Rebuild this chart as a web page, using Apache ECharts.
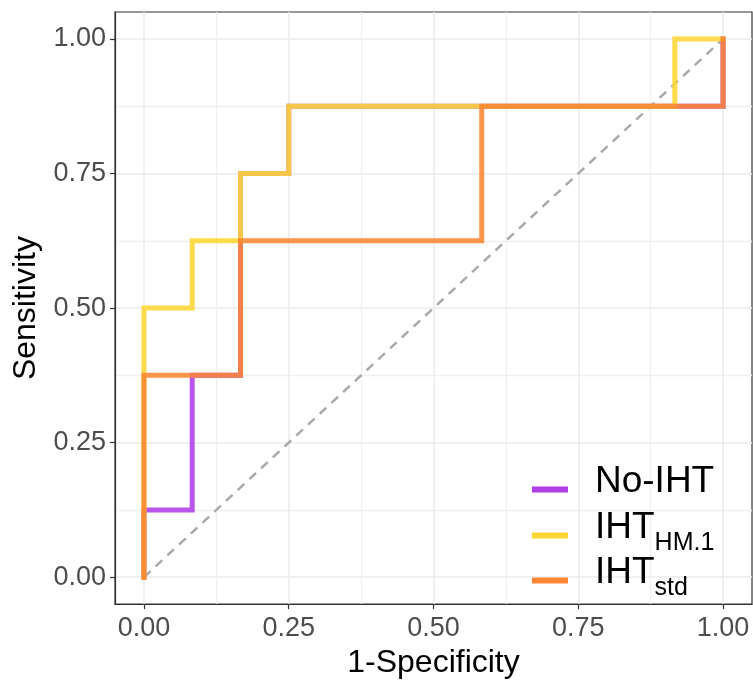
<!DOCTYPE html>
<html>
<head>
<meta charset="utf-8">
<script src="https://cdn.jsdelivr.net/npm/echarts@6/dist/echarts.min.js"></script>
<style>
html,body{margin:0;padding:0;background:#fff;}
#chart{width:753px;height:684px;}
</style>
</head>
<body>
<div id="chart"></div>
<script>
// ROC curve corner points (1-Specificity, Sensitivity)
const noIhtFpr = [0, 0, 1/12, 1/12, 2/12, 2/12, 3/12, 3/12, 1, 1];
const noIhtTpr = [0, 0.125, 0.125, 0.375, 0.375, 0.75, 0.75, 0.875, 0.875, 1];
const hm1Fpr = [0, 0, 1/12, 1/12, 2/12, 2/12, 3/12, 3/12, 11/12, 11/12, 1];
const hm1Tpr = [0, 0.5, 0.5, 0.625, 0.625, 0.75, 0.75, 0.875, 0.875, 1, 1];
const stdFpr = [0, 0, 2/12, 2/12, 7/12, 7/12, 1, 1];
const stdTpr = [0, 0.375, 0.375, 0.625, 0.625, 0.875, 0.875, 1];
const diagX = [0, 1];
const diagY = [0, 1];
const majorTicks = [0, 0.25, 0.5, 0.75, 1];
const minorTicks = [0.125, 0.375, 0.625, 0.875];
const seriesNames = ['No-IHT', 'IHT_HM.1', 'IHT_std'];
const seriesColors = ['#B03EE8', '#FCD733', '#FB8633'];

const zip = (xs, ys) => xs.map((x, i) => [x, ys[i]]);
const FONT = 'Liberation Sans, Arial, Helvetica, sans-serif';

const chart = echarts.init(document.getElementById('chart'));

function axisPair(isX) {
  const main = {
    type: 'value', min: -0.05, max: 1.05,
    position: isX ? 'bottom' : 'left',
    axisLine: { show: true, onZero: false, lineStyle: { color: '#333333', width: 1.2 } },
    axisTick: { show: true, length: 5, customValues: majorTicks, lineStyle: { color: '#333333', width: 1.2 } },
    axisLabel: {
      customValues: majorTicks, margin: isX ? 11 : 9,
      color: '#4D4D4D', fontSize: 27, fontFamily: FONT,
      formatter: v => v.toFixed(2)
    },
    splitLine: { show: true, lineStyle: { color: '#EBEBEB', width: 1.5 } },
    name: isX ? '1-Specificity' : 'Sensitivity',
    nameLocation: 'middle',
    nameGap: isX ? 55 : 86,
    nameRotate: isX ? 0 : 90,
    nameTextStyle: { color: '#000', fontSize: 32, fontFamily: FONT, verticalAlign: 'middle' }
  };
  const minor = {
    type: 'value', min: -0.05, max: 1.05,
    position: isX ? 'top' : 'right',
    axisLine: { show: false },
    axisTick: { show: false, customValues: minorTicks },
    axisLabel: { show: false, customValues: minorTicks },
    splitLine: { show: true, lineStyle: { color: '#F0F0F0', width: 1.3 } }
  };
  return [main, minor];
}

const rich = {
  m: { fontSize: 37, fontFamily: FONT, color: '#000', lineHeight: 44, padding: [0, 0, 16, 22] },
  s: { fontSize: 25, fontFamily: FONT, color: '#000', lineHeight: 44, padding: [16, 0, 0, 0] }
};
function legendLabel(name) {
  if (name === 'IHT_HM.1') return '{m|IHT}{s|HM.1}';
  if (name === 'IHT_std') return '{m|IHT}{s|std}';
  return '{m|' + name + '}';
}
const legendTops = [463, 509, 554];

const lineSeries = [zip(noIhtFpr, noIhtTpr), zip(hm1Fpr, hm1Tpr), zip(stdFpr, stdTpr)].map((d, i) => ({
  name: seriesNames[i],
  type: 'line',
  data: d,
  showSymbol: false,
  symbol: 'none',
  color: seriesColors[i],
  lineStyle: { width: 5, opacity: 0.88, cap: 'square', join: 'miter' },
  z: 3 + i,
  animation: false
}));

chart.setOption({
  backgroundColor: '#fff',
  animation: false,
  grid: { left: 115, top: 12, right: 1, bottom: 71, show: true, borderColor: '#333333', borderWidth: 1.2, backgroundColor: 'transparent' },
  xAxis: axisPair(true),
  yAxis: axisPair(false),
  legend: seriesNames.map((n, i) => ({
    data: [n],
    orient: 'vertical',
    left: 532, top: legendTops[i],
    padding: 0,
    icon: 'rect', itemWidth: 36, itemHeight: 6,
    itemStyle: { borderWidth: 0 },
    selectedMode: false,
    formatter: legendLabel,
    textStyle: { rich: rich }
  })),
  series: [{
    name: 'diag', type: 'line', data: zip(diagX, diagY), showSymbol: false, symbol: 'none',
    lineStyle: { color: '#AAAAAA', width: 2.5, type: [9, 7] }, z: 2, silent: true
  }].concat(lineSeries)
});
</script>
</body>
</html>
